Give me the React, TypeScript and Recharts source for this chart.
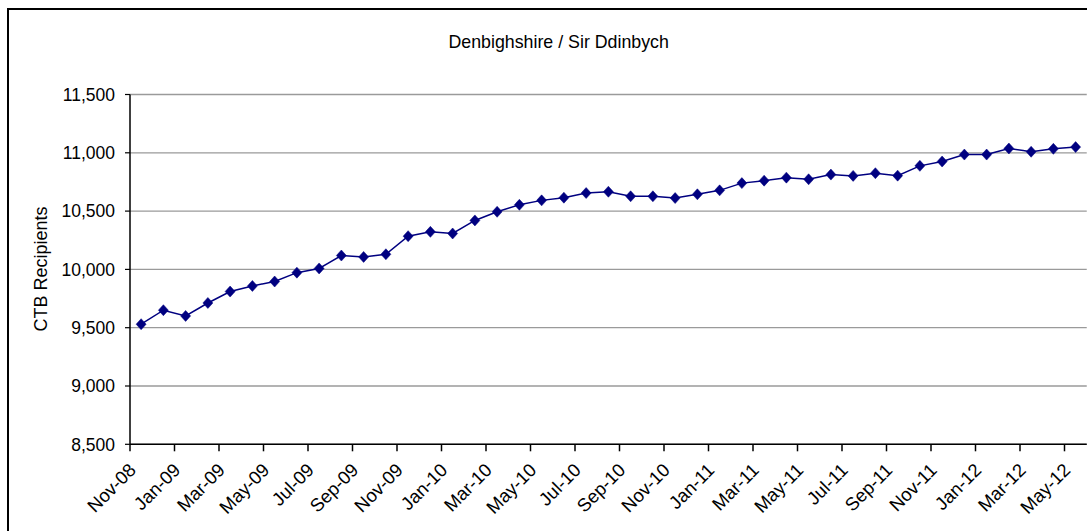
import React from "react";
import { LineChart, Line, XAxis, YAxis, CartesianGrid } from "recharts";

const months = [
  "Nov-08", "Dec-08",
  "Jan-09", "Feb-09", "Mar-09", "Apr-09", "May-09", "Jun-09",
  "Jul-09", "Aug-09", "Sep-09", "Oct-09", "Nov-09", "Dec-09",
  "Jan-10", "Feb-10", "Mar-10", "Apr-10", "May-10", "Jun-10",
  "Jul-10", "Aug-10", "Sep-10", "Oct-10", "Nov-10", "Dec-10",
  "Jan-11", "Feb-11", "Mar-11", "Apr-11", "May-11", "Jun-11",
  "Jul-11", "Aug-11", "Sep-11", "Oct-11", "Nov-11", "Dec-11",
  "Jan-12", "Feb-12", "Mar-12", "Apr-12", "May-12",
];

const recipients = [
  9530, 9650, 9601, 9712, 9810, 9858, 9896, 9972, 10008, 10119,
  10107, 10130, 10285, 10322, 10308, 10420, 10494, 10554, 10592, 10615,
  10655, 10666, 10627, 10627, 10612, 10644, 10678, 10740, 10761, 10787,
  10773, 10813, 10802, 10825, 10804, 10888, 10925, 10985, 10985, 11037,
  11009, 11034, 11049,
];

const yTicks = [8500, 9000, 9500, 10000, 10500, 11000, 11500];

const data = months.map((month, i) => ({ month, value: recipients[i] }));

const FONT = "'Liberation Sans', Arial, sans-serif";
const W = 1100;
const H = 540;
const M = { top: 84.5, right: 22.25, left: 61, bottom: 45.7 };
const Y_AXIS_W = 60;
const X_AXIS_H = 60;
const PLOT_W = W - M.left - Y_AXIS_W - M.right;
const BAND = PLOT_W / months.length;

// month labels sit on category centres, tick marks on the band edges
const XTick = (props: any) => {
  const { x, y, payload } = props;
  const tx = x - 4;
  const ty = y + 27;
  return (
    <g>
      <line
        x1={x - BAND / 2}
        x2={x - BAND / 2}
        y1={y}
        y2={y + 7}
        stroke="#000"
        strokeWidth={1.5}
      />
      <text
        x={tx}
        y={ty}
        transform={`rotate(-45 ${tx} ${ty})`}
        textAnchor="end"
        fontSize={18.5}
        fontFamily={FONT}
        fill="#000"
      >
        {payload.value}
      </text>
    </g>
  );
};

const renderDiamond = (props: any) => {
  const { cx, cy, index } = props;
  return (
    <path
      key={`d-${index}`}
      d={`M${cx},${cy - 5.5} L${cx + 5},${cy} L${cx},${cy + 5.5} L${cx - 5},${cy} Z`}
      fill="#000080"
      stroke="#000080"
      strokeWidth={0.5}
    />
  );
};

export default function App() {
  return (
    <div
      style={{
        position: "fixed",
        left: 7,
        top: 8,
        width: W,
        height: H,
        border: "2px solid #000",
        background: "#fff",
      }}
    >
      <LineChart width={W} height={H} data={data} margin={M}>
        <CartesianGrid vertical={false} stroke="#9a9a9a" strokeWidth={1.3} />
        <XAxis
          dataKey="month"
          scale="band"
          interval={1}
          height={X_AXIS_H}
          tickSize={0}
          tickMargin={0}
          tickLine={false}
          axisLine={{ stroke: "#000", strokeWidth: 1.5 }}
          tick={<XTick />}
        />
        <YAxis
          width={Y_AXIS_W}
          domain={[8500, 11500]}
          ticks={yTicks}
          tickSize={5}
          tickMargin={10}
          axisLine={{ stroke: "#000", strokeWidth: 1.5 }}
          tickLine={{ stroke: "#000", strokeWidth: 1.2 }}
          tick={{ fill: "#000", fontSize: 17.5, fontFamily: FONT }}
          tickFormatter={(v: number) => v.toLocaleString("en-US")}
        />
        <Line
          type="linear"
          dataKey="value"
          stroke="#000080"
          strokeWidth={1.5}
          dot={renderDiamond}
          activeDot={false}
          isAnimationActive={false}
        />
      </LineChart>
      <svg
        width={W}
        height={H}
        style={{ position: "absolute", left: 0, top: 0, pointerEvents: "none" }}
      >
        <text
          x={549.7}
          y={38.3}
          textAnchor="middle"
          fontSize={17.8}
          fontFamily={FONT}
          fill="#000"
        >
          Denbighshire / Sir Ddinbych
        </text>
        <text
          x={37.5}
          y={259}
          transform="rotate(-90 37.5 259)"
          textAnchor="middle"
          fontSize={18}
          fontFamily={FONT}
          fill="#000"
        >
          CTB Recipients
        </text>
      </svg>
    </div>
  );
}
